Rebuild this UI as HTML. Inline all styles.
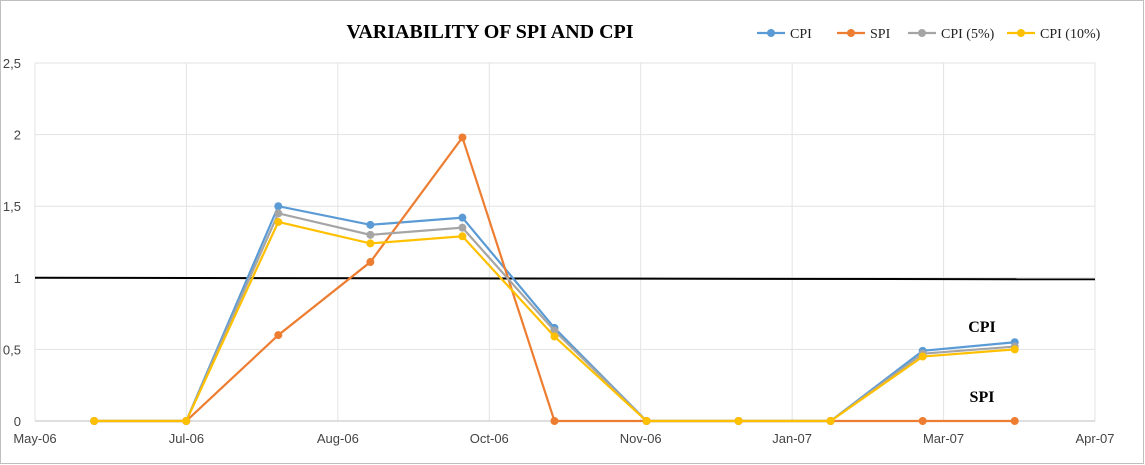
<!DOCTYPE html>
<html><head><meta charset="utf-8"><style>
body{margin:0;background:#fff;font-family:"Liberation Serif",serif;}
svg{display:block}
</style></head><body>
<svg width="1145" height="465" id="c">
<rect x="0.5" y="0.5" width="1143" height="463" fill="#fff" stroke="#bfbfbf"/>
<text x="490" y="38" text-anchor="middle" font-size="20" font-weight="bold">VARIABILITY  OF SPI AND CPI</text>
<g id="grid"></g><g id="axes"></g><g id="series"></g><g id="legend"></g>
<text x="982" y="332" text-anchor="middle" font-size="16" font-weight="bold">CPI</text>
<text x="982" y="402" text-anchor="middle" font-size="16" font-weight="bold">SPI</text>
</svg>
<script>
const points=[0,1,2,3,4,5,6,7,8,9,10];
const cpi=[0,0,1.5,1.37,1.42,0.65,0,0,0,0.49,0.55];
const spi=[0,0,0.6,1.11,1.98,0,0,0,0,0,0];
const cpi5=[0,0,1.45,1.30,1.35,0.63,0,0,0,0.47,0.52];
const cpi10=[0,0,1.39,1.24,1.29,0.59,0,0,0,0.45,0.50];
const xTickLabels=["May-06","Jul-06","Aug-06","Oct-06","Nov-06","Jan-07","Mar-07","Apr-07"];
const xTickVals=[-0.643,1.002,2.647,4.292,5.937,7.582,9.227,10.872];
const yTicks=[0,0.5,1,1.5,2,2.5];
const yTickLabels=["0","0,5","1","1,5","2","2,5"];
const NS="http://www.w3.org/2000/svg";
const X0=35,X1=1095,Y0=421,Y1=63;
const xs=v=>X0+(v-xTickVals[0])/(xTickVals[xTickVals.length-1]-xTickVals[0])*(X1-X0);
const ys=v=>Y0-(v/2.5)*(Y0-Y1);
function mk(t,a,p){const e=document.createElementNS(NS,t);for(const k in a)e.setAttribute(k,a[k]);p.appendChild(e);return e;}
const grid=document.getElementById('grid'),axes=document.getElementById('axes'),ser=document.getElementById('series'),leg=document.getElementById('legend');
yTicks.forEach((v,i)=>{
 const l=mk('line',{x1:X0,x2:X1,y1:ys(v),y2:ys(v),stroke:'#e3e3e3'},grid);
 
 
 const t=mk('text',{x:X0-14,y:ys(v)+5,'text-anchor':'end','font-size':13,fill:'#444','font-family':'Liberation Sans, sans-serif'},axes);
 t.textContent=yTickLabels[i];
 
 
});
xTickVals.forEach((v,i)=>{
 const l=mk('line',{x1:xs(v),x2:xs(v),y1:Y1,y2:Y0,stroke:'#e3e3e3'},grid);
 
 
 const t=mk('text',{x:xs(v),y:Y0+22,'text-anchor':'middle','font-size':13,fill:'#444','font-family':'Liberation Sans, sans-serif'},axes);
 t.textContent=xTickLabels[i];
 
 
});
const ax=mk('line',{x1:X0,x2:X1,y1:Y0,y2:Y0,stroke:'#bfbfbf'},axes);


const ref=mk('line',{x1:X0,x2:X1,y1:ys(1),y2:ys(1)+1.5,stroke:'#000','stroke-width':2},ser);


const series=[["CPI",cpi,"#5b9bd5"],["SPI",spi,"#ed7d31"],["CPI (5%)",cpi5,"#a5a5a5"],["CPI (10%)",cpi10,"#ffc000"]];
series.forEach(([name,vals,col])=>{
 const g=mk('g',{},ser);
 
 
 const p=mk('polyline',{points:vals.map((v,i)=>xs(points[i])+','+ys(v)).join(' '),fill:'none',stroke:col,'stroke-width':2.2},g);
 
 
 vals.forEach((v,i)=>{
  const c=mk('circle',{cx:xs(points[i]),cy:ys(v),r:4,fill:col},g);
  
  
 });
});
const legX=[757,837,908,1007];
series.forEach(([name,vals,col],i)=>{
 const g=mk('g',{},leg);
 
 
 mk('line',{x1:legX[i],x2:legX[i]+28,y1:33,y2:33,stroke:col,'stroke-width':2.2},g);
 mk('circle',{cx:legX[i]+14,cy:33,r:4,fill:col},g);
 const t=mk('text',{x:legX[i]+33,y:38,'font-size':14,fill:'#222'},g);
 t.textContent=name;
});
</script>
</body></html>
